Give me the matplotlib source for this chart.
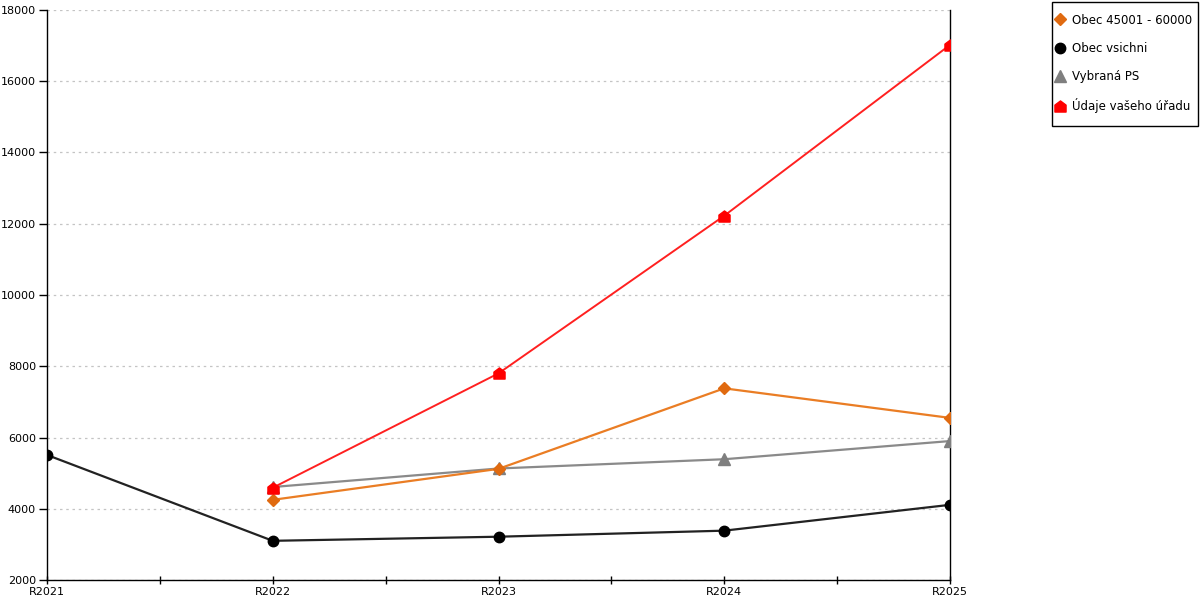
import numpy as np
import matplotlib
matplotlib.use("Agg")
import matplotlib.pyplot as plt
from matplotlib.path import Path
from matplotlib.lines import Line2D
from matplotlib.patches import Rectangle

categories = ["R2021", "R2022", "R2023", "R2024", "R2025"]
obec_45001 = [np.nan, 4250, 5120, 7380, 6550]
obec_vsichni = [5510, 3100, 3215, 3385, 4110]
vybrana_ps = [np.nan, 4610, 5130, 5390, 5900]
udaje_uradu = [np.nan, 4590, 7800, 12225, 17020]

labels = ["Obec 45001 - 60000", "Obec vsichni", "Vybraná PS", "Údaje vašeho úřadu"]
yticks = [2000, 4000, 6000, 8000, 10000, 12000, 14000, 16000, 18000]

plt.rcParams['font.family'] = ['DejaVu Sans']

fig = plt.figure(figsize=(12, 6), dpi=100)
ax = fig.add_axes([47/1200, 1 - 580/600, (950 - 47)/1200, (580 - 10)/600])

house = Path([(-1, -1), (1, -1), (1, 0.25), (0, 1), (-1, 0.25), (-1, -1)],
             [Path.MOVETO, Path.LINETO, Path.LINETO, Path.LINETO, Path.LINETO, Path.CLOSEPOLY])

x = np.arange(len(categories))
ax.plot(x, obec_vsichni, color="#222222", lw=1.6, marker="o", ms=7.5,
        mfc="black", mec="black", label=labels[1], zorder=3)
ax.plot(x, vybrana_ps, color="#8a8a8a", lw=1.6, marker="^", ms=8,
        mfc="#7f7f7f", mec="#7f7f7f", label=labels[2], zorder=3)
ax.plot(x, obec_45001, color="#ea7d24", lw=1.6, marker="D", ms=6.5,
        mfc="#e06a10", mec="#e06a10", label=labels[0], zorder=4)
ax.plot(x, udaje_uradu, color="#ff2020", lw=1.4, marker=house, ms=8,
        mfc="#ff0000", mec="#ff0000", label=labels[3], zorder=5)

ax.set_xlim(0, 4)
ax.set_ylim(2000, 18000)
ax.set_xticks(x)
ax.set_xticklabels(categories)
ax.set_xticks([0.5, 1.5, 2.5, 3.5], minor=True)
ax.set_yticks(yticks)
ax.set_yticklabels([str(v) for v in yticks])

ax.tick_params(axis='x', which='both', direction='inout', length=6, width=1,
               labelsize=8, pad=2)
ax.tick_params(axis='y', which='major', direction='out', length=6, width=1,
               labelsize=8, pad=2)

for s in ['left', 'bottom', 'right']:
    ax.spines[s].set_color('black')
    ax.spines[s].set_linewidth(1)
ax.spines['top'].set_visible(False)

ax.grid(axis='y', color='#c4c4c4', linestyle=(0, (2, 3)), linewidth=0.9)
ax.set_axisbelow(True)

handles, labs = ax.get_legend_handles_labels()
leg_handles = []
for lab in labels:
    h = handles[labs.index(lab)]
    leg_handles.append(Line2D([], [], linestyle='none', marker=h.get_marker(),
                              ms=h.get_markersize(), mfc=h.get_markerfacecolor(),
                              mec=h.get_markeredgecolor()))
leg = fig.legend(leg_handles, labels, loc='upper left',
                 bbox_to_anchor=(1052/1200, 1 - 10/600), frameon=False,
                 fontsize=8.5, labelspacing=1.29,
                 handlelength=0.7, handletextpad=0.7, borderpad=0.3,
                 borderaxespad=0)
fig.patches.append(Rectangle((1052/1200, 1 - 126/600), 146/1200, 124/600,
                             transform=fig.transFigure, fill=False,
                             edgecolor='black', linewidth=1))

fig.savefig("out.png", dpi=100)
